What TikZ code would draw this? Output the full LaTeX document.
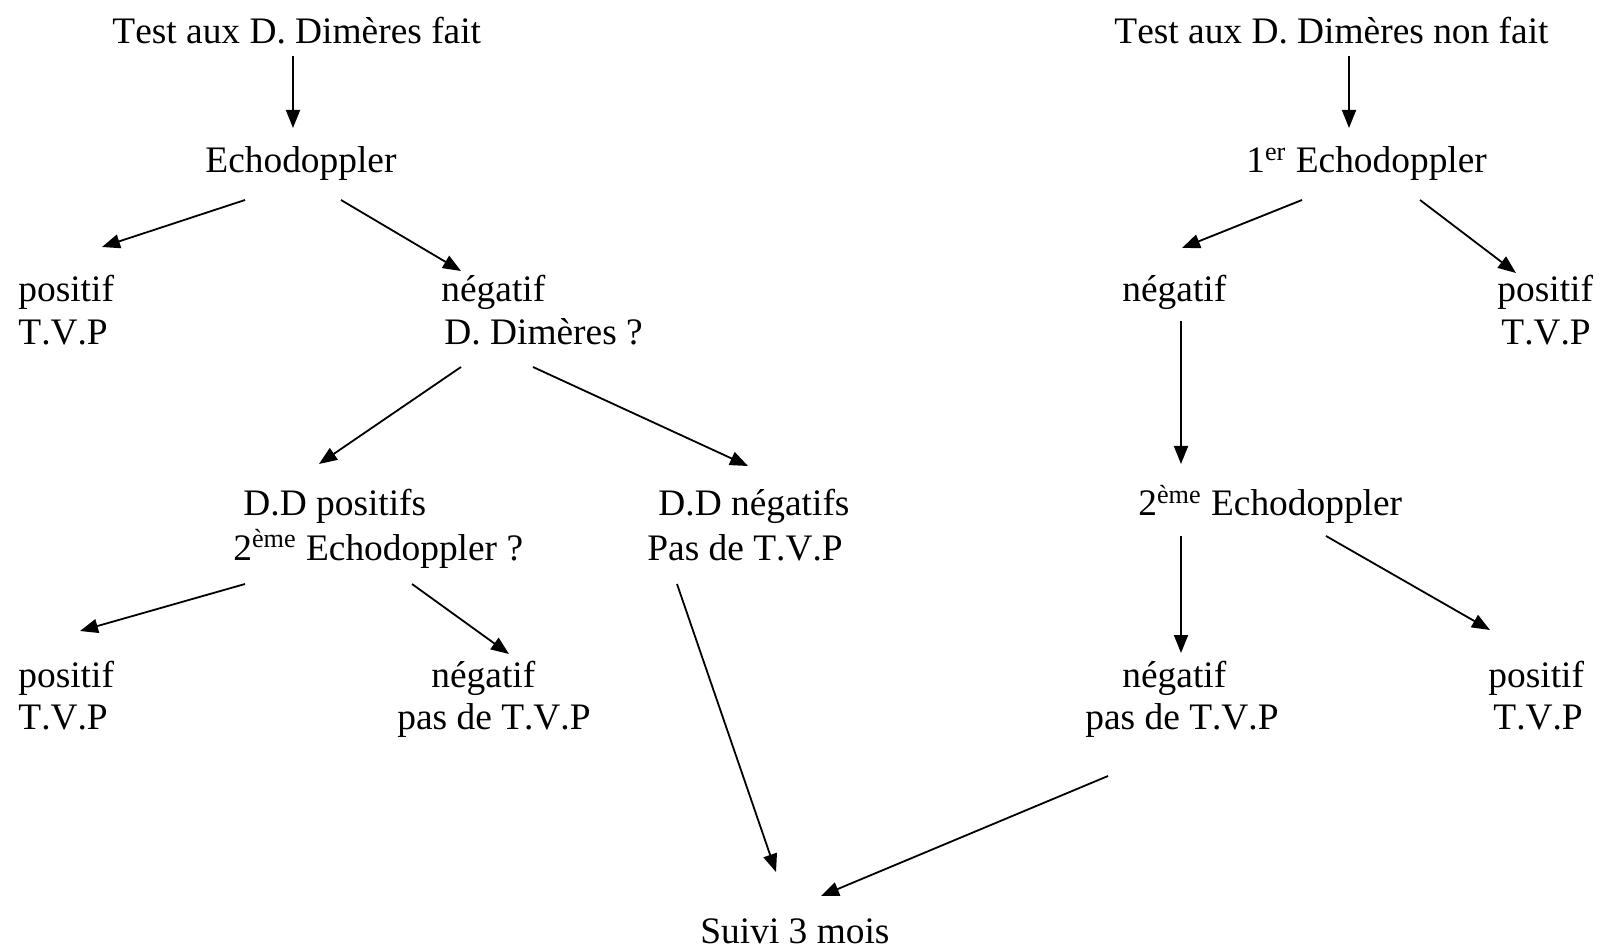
\documentclass[tikz,border=0pt]{standalone}
\usepackage{fontspec}
\setmainfont{Liberation Serif}[Kerning=Off]
\usetikzlibrary{arrows.meta}
\begin{document}
\begin{tikzpicture}[x=0.5pt,y=-0.5pt,
  lbl/.style={anchor=base west,inner sep=0pt,font=\fontsize{18.7}{22}\selectfont},
  arr/.style={line width=0.9pt,-{Triangle[length=9pt,width=7pt]}}]
\useasboundingbox (0,0) rectangle (1600,951);
% left tree
\node[lbl] (t1) at (112,44) {Test aux D. Dimères fait};
\node[lbl] (e1) at (205,173) {Echodoppler};
\node[lbl] (p1) at (18,302) {positif};
\node[lbl] (p1b) at (18,345) {T.V.P};
\node[lbl] (n1) at (441,302) {négatif};
\node[lbl] (n1b) at (444,345) {D. Dimères ?};
\node[lbl] (ddp) at (243,516) {D.D positifs};
\node[lbl] (ddpb) at (233,560) {2\textsuperscript{ème} Echodoppler ?};
\node[lbl] (ddn) at (658,516) {D.D négatifs};
\node[lbl] (ddnb) at (647,560) {Pas de T.V.P};
\node[lbl] (p2) at (18,687) {positif};
\node[lbl] (p2b) at (18,729) {T.V.P};
\node[lbl] (n2) at (431,687) {négatif};
\node[lbl] (n2b) at (397,729) {pas de T.V.P};
\node[lbl] (s) at (700,943) {Suivi 3 mois};
% right tree
\node[lbl] (t2) at (1114,44) {Test aux D. Dimères non fait};
\node[lbl] (e2) at (1246,173) {1\textsuperscript{er} Echodoppler};
\node[lbl] (n3) at (1122,302) {négatif};
\node[lbl] (p3) at (1497,302) {positif};
\node[lbl] (p3b) at (1501,345) {T.V.P};
\node[lbl] (e3) at (1138,516) {2\textsuperscript{ème} Echodoppler};
\node[lbl] (n4) at (1122,687) {négatif};
\node[lbl] (n4b) at (1085,729) {pas de T.V.P};
\node[lbl] (p4) at (1488,687) {positif};
\node[lbl] (p4b) at (1493,729) {T.V.P};
% connector ends
\coordinate (a1s) at (293,56);   \coordinate (a1e) at (293,128);
\coordinate (a2s) at (245,200);  \coordinate (a2e) at (102,247);
\coordinate (a3s) at (341,200);  \coordinate (a3e) at (461,271);
\coordinate (a4s) at (461,367);  \coordinate (a4e) at (319,464);
\coordinate (a5s) at (533,367);  \coordinate (a5e) at (748,466);
\coordinate (a6s) at (245,584);  \coordinate (a6e) at (80,631);
\coordinate (a7s) at (412,584);  \coordinate (a7e) at (509,654);
\coordinate (a8s) at (677,584);  \coordinate (a8e) at (776,872);
\coordinate (a9s) at (1108,776); \coordinate (a9e) at (821,896);
\coordinate (b1s) at (1349,56);  \coordinate (b1e) at (1349,128);
\coordinate (b2s) at (1302,200); \coordinate (b2e) at (1182,248);
\coordinate (b3s) at (1420,200); \coordinate (b3e) at (1516,273);
\coordinate (b4s) at (1181,321); \coordinate (b4e) at (1181,464);
\coordinate (b5s) at (1181,536); \coordinate (b5e) at (1181,653);
\coordinate (b6s) at (1326,536); \coordinate (b6e) at (1490,630);
\draw[arr] (a1s) -- (a1e);
\draw[arr] (a2s) -- (a2e);
\draw[arr] (a3s) -- (a3e);
\draw[arr] (a4s) -- (a4e);
\draw[arr] (a5s) -- (a5e);
\draw[arr] (a6s) -- (a6e);
\draw[arr] (a7s) -- (a7e);
\draw[arr] (a8s) -- (a8e);
\draw[arr] (a9s) -- (a9e);
\draw[arr] (b1s) -- (b1e);
\draw[arr] (b2s) -- (b2e);
\draw[arr] (b3s) -- (b3e);
\draw[arr] (b4s) -- (b4e);
\draw[arr] (b5s) -- (b5e);
\draw[arr] (b6s) -- (b6e);
\end{tikzpicture}
\end{document}
